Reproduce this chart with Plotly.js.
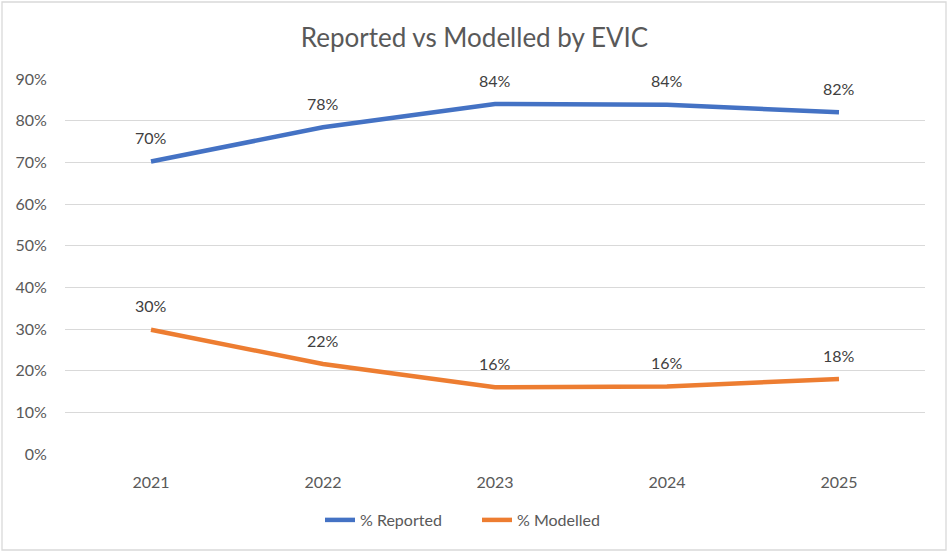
<!DOCTYPE html>
<html>
<head>
<meta charset="utf-8">
<script src="https://cdn.plot.ly/plotly-3.0.1.min.js"></script>
<style>
html,body{margin:0;padding:0;background:#fff;}
#chart{width:949px;height:552px;}
</style>
</head>
<body>
<div id="chart"></div>
<script>
const years = ['2021', '2022', '2023', '2024', '2025'];
const reported = [70.2, 78.4, 84.0, 83.8, 82.0];
const modelled = [29.8, 21.6, 16.0, 16.2, 18.0];
const yTicks = [0, 10, 20, 30, 40, 50, 60, 70, 80, 90];

const FONT = 'Lato, "Open Sans", sans-serif';
const TXT = '#595959';

const traces = [
  {x: years, y: reported, name: '% Reported', type: 'scatter', mode: 'lines',
   line: {color: '#4472C4', width: 4.5}},
  {x: years, y: modelled, name: '% Modelled', type: 'scatter', mode: 'lines',
   line: {color: '#ED7D31', width: 4.5}}
];

const annotations = [];
[reported, modelled].forEach(function (series) {
  series.forEach(function (v, i) {
    annotations.push({x: i, y: v, xref: 'x', yref: 'y',
      text: String(Math.round(v)) + '%', showarrow: false, yshift: 24,
      xanchor: 'center', yanchor: 'middle',
      font: {family: FONT, size: 16, color: '#404040'}});
  });
});

const layout = {
  width: 949, height: 552,
  margin: {l: 65, r: 24, t: 79, b: 98},
  paper_bgcolor: '#fff', plot_bgcolor: '#fff',
  font: {family: FONT, color: TXT, size: 16},
  title: {text: 'Reported vs Modelled by EVIC', x: 0.5, xanchor: 'center',
          y: 1 - 38 / 552, yanchor: 'middle', yref: 'container',
          font: {family: FONT, size: 26, color: TXT}},
  xaxis: {type: 'category', range: [-0.5, 4.5], showgrid: false, zeroline: false,
          showline: false, ticks: 'outside', ticklen: 14, tickcolor: 'rgba(0,0,0,0)',
          tickfont: {family: FONT, size: 16, color: TXT}, fixedrange: true},
  yaxis: {range: [0, 90], tickvals: yTicks, ticktext: yTicks.map(function (t) { return t + '%'; }),
          showgrid: true, gridcolor: '#d9d9d9', gridwidth: 1.3, zeroline: false,
          showline: false, ticks: 'outside', ticklen: 14, tickcolor: 'rgba(0,0,0,0)',
          tickfont: {family: FONT, size: 16, color: TXT}, fixedrange: true},
  legend: {orientation: 'h', x: (477 - 65) / 860, xanchor: 'center', y: (454 - 520) / 375, yanchor: 'middle',
           entrywidth: 112, entrywidthmode: 'pixels',
           font: {family: FONT, size: 16, color: TXT}},
  showlegend: true,
  annotations: annotations,
  shapes: [{type: 'rect', xref: 'paper', yref: 'paper',
            x0: (2 - 65) / 860, x1: (946 - 65) / 860,
            y0: (454 - 550) / 375, y1: (454 - 2) / 375,
            line: {color: '#d9d9d9', width: 1.3}, fillcolor: 'rgba(0,0,0,0)', layer: 'below'}]
};

Plotly.newPlot('chart', traces, layout, {displayModeBar: false});
</script>
</body>
</html>
